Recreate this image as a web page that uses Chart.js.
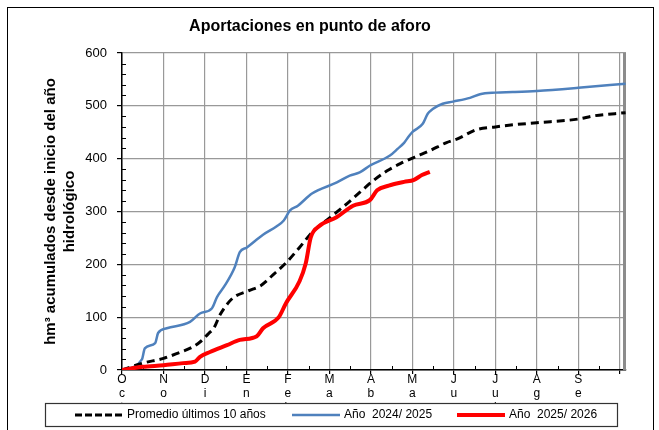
<!DOCTYPE html>
<html lang="es">
<head>
<meta charset="UTF-8">
<title>Aportaciones en punto de aforo</title>
<script src="https://cdn.jsdelivr.net/npm/chart.js@4.4.0/dist/chart.umd.min.js"></script>
<style>
    html, body { margin: 0; padding: 0; background: #fff; }
    #wrap { width: 659px; height: 430px; }
</style>
</head>
<body>
<div id="wrap"><canvas id="grafico"></canvas></div>
<script>
    // Meses del año hidrológico (eje X en meses desde el 1 de octubre)
    const meses = ['Oct', 'Nov', 'Dic', 'Ene', 'Feb', 'Mar', 'Abr', 'May', 'Jun', 'Jul', 'Ago', 'Sep'];
    const yTicks = [0, 100, 200, 300, 400, 500, 600];

    // Promedio últimos 10 años
    const promedioMes = [0, 0.5, 1.0, 1.35, 1.69, 1.88, 2.10, 2.22, 2.36, 2.55, 2.70, 3.05, 3.35, 3.64, 3.98, 4.28, 4.60, 4.99, 5.32, 5.73, 6.05, 6.39, 6.72, 7.06, 7.42, 7.81, 8.10, 8.55, 9.0, 9.42, 10.0, 11.0, 11.37, 12.14];
    const promedioVal = [0, 13, 22, 32, 43, 53, 70, 80, 104, 126, 138, 150, 160, 180, 205, 232, 262, 287, 308, 336, 358, 377, 391, 403, 415, 430, 438, 455, 460, 464, 468, 475, 481, 487];

    // Año 2024/2025
    const ano2425Mes = [0, 0.48, 0.55, 0.80, 0.87, 1.08, 1.64, 1.88, 2.17, 2.29, 2.48, 2.72, 2.84, 3.01, 3.40, 3.73, 3.90, 4.05, 4.24, 4.58, 5.18, 5.49, 5.73, 5.98, 6.46, 6.65, 6.80, 6.92, 7.01, 7.25, 7.37, 7.49, 7.73, 7.98, 8.39, 8.63, 9.0, 9.42, 10.0, 11.0, 12.14];
    const ano2425Val = [0, 20, 41, 51, 70, 79, 91, 107, 117, 138, 160, 195, 223, 232, 256, 272, 283, 302, 311, 334, 355, 368, 374, 387, 406, 419, 430, 443, 451, 466, 485, 494, 504, 508, 515, 522, 525, 526, 528, 534, 542];

    // Año 2025/2026
    const ano2526Mes = [0, 0.5, 1.0, 1.47, 1.76, 1.88, 2.12, 2.53, 2.84, 3.25, 3.40, 3.78, 3.95, 4.28, 4.43, 4.55, 4.75, 5.17, 5.57, 5.98, 6.15, 6.43, 6.80, 7.04, 7.23, 7.42];
    const ano2526Val = [0, 6, 9, 13, 16, 25, 34, 47, 57, 64, 79, 100, 126, 168, 202, 251, 272, 289, 311, 322, 340, 349, 356, 360, 369, 375];

    const puntos = (xs, ys) => xs.map((m, i) => ({ x: m, y: ys[i] }));

    Chart.defaults.font.family = '"Liberation Sans", Arial, sans-serif';
    Chart.defaults.color = '#000';

    // Marco, título, marcas menores y leyenda en recuadro
    const marco = {
        id: 'marco',
        beforeDatasetsDraw(chart) {
            const { ctx, chartArea: a, scales: { x, y } } = chart;
            ctx.save();
            ctx.strokeStyle = '#000';
            ctx.lineWidth = 1;
            ctx.beginPath();
            for (let v = 20; v < 600; v += 20) {
                if (v % 100 === 0) continue;
                const py = Math.round(y.getPixelForValue(v)) + 0.5;
                ctx.moveTo(a.left, py);
                ctx.lineTo(a.left + 4, py);
            }
            for (let m = 0.5; m < 12; m++) {
                const px = Math.round(x.getPixelForValue(m)) + 0.5;
                ctx.moveTo(px, a.bottom);
                ctx.lineTo(px, a.bottom - 4);
            }
            ctx.stroke();
            ctx.strokeStyle = '#8c8c8c';
            ctx.lineWidth = 3;
            ctx.beginPath();
            ctx.moveTo(a.right - 1.5, a.top);
            ctx.lineTo(a.right - 1.5, a.bottom);
            ctx.stroke();
            ctx.restore();
        },
        afterDraw(chart) {
            const { ctx } = chart;
            ctx.save();
            // borde exterior
            ctx.strokeStyle = '#000';
            ctx.lineWidth = 1;
            ctx.strokeRect(7.5, 7.5, 646, 440);

            // título
            ctx.fillStyle = '#000';
            ctx.font = 'bold 16px "Liberation Sans", Arial, sans-serif';
            ctx.textAlign = 'center';
            ctx.textBaseline = 'middle';
            ctx.fillText('Aportaciones en punto de aforo', 310, 27);

            // leyenda
            ctx.fillStyle = '#fff';
            ctx.fillRect(45, 403, 572, 23);
            ctx.strokeStyle = '#333';
            ctx.lineWidth = 1.2;
            ctx.strokeRect(45.5, 403.5, 572, 23);
            const itemX = [75, 292, 457];
            const yc = 415;
            ctx.font = '12px "Liberation Sans", Arial, sans-serif';
            ctx.textAlign = 'left';
            chart.data.datasets.forEach((ds, i) => {
                const x0 = itemX[i];
                ctx.beginPath();
                ctx.strokeStyle = ds.borderColor;
                ctx.lineWidth = ds.borderWidth;
                ctx.setLineDash(ds.borderDash ? [7, 3] : []);
                ctx.moveTo(x0, yc);
                ctx.lineTo(x0 + 48, yc);
                ctx.stroke();
                ctx.setLineDash([]);
                ctx.fillStyle = '#000';
                ctx.fillText(ds.label, x0 + 52, yc);
            });
            ctx.restore();
        }
    };

    new Chart(document.getElementById('grafico'), {
        type: 'line',
        data: {
            datasets: [
                {
                    label: 'Promedio últimos 10 años',
                    data: puntos(promedioMes, promedioVal),
                    borderColor: '#000',
                    borderWidth: 3,
                    borderDash: [8, 5],
                    order: 1
                },
                {
                    label: 'Año  2024/ 2025',
                    data: puntos(ano2425Mes, ano2425Val),
                    borderColor: '#4f81bd',
                    borderWidth: 2.5,
                    order: 2
                },
                {
                    label: 'Año  2025/ 2026',
                    data: puntos(ano2526Mes, ano2526Val),
                    borderColor: '#ff0000',
                    borderWidth: 4,
                    order: 0
                }
            ]
        },
        options: {
            responsive: true,
            maintainAspectRatio: false,
            animation: false,
            devicePixelRatio: 1,
            layout: { padding: { left: 40, right: 33, top: 53, bottom: 0 } },
            elements: {
                point: { radius: 0 },
                line: { cubicInterpolationMode: 'monotone', fill: false }
            },
            plugins: {
                legend: { display: false },
                tooltip: { enabled: false }
            },
            scales: {
                x: {
                    type: 'linear',
                    min: 0,
                    max: 12.15,
                    afterFit: s => { s.height = 60; },
                    border: { color: '#000', width: 1.5 },
                    grid: { color: '#999', lineWidth: 1.2, tickColor: '#000', tickLength: 4 },
                    ticks: {
                        stepSize: 1,
                        includeBounds: false,
                        autoSkip: false,
                        maxRotation: 0,
                        padding: -1,
                        font: { size: 12, lineHeight: 1.17 },
                        callback: v => (Number.isInteger(v) && v < 12) ? meses[v].split('') : ''
                    }
                },
                y: {
                    min: 0,
                    max: 600,
                    afterFit: s => { s.width = 82; },
                    afterBuildTicks: s => { s.ticks = yTicks.map(v => ({ value: v })); },
                    border: { color: '#000', width: 1.5 },
                    grid: { color: '#999', lineWidth: 1.2, tickColor: '#000', tickLength: 5 },
                    ticks: { padding: 10, font: { size: 13 } },
                    title: {
                        display: true,
                        text: ['hm³ acumulados desde inicio del año', 'hidrológico'],
                        font: { size: 15, weight: 'bold', lineHeight: 1.3 },
                        padding: { top: 1, bottom: 0 }
                    }
                }
            }
        },
        plugins: [marco]
    });
</script>
</body>
</html>
